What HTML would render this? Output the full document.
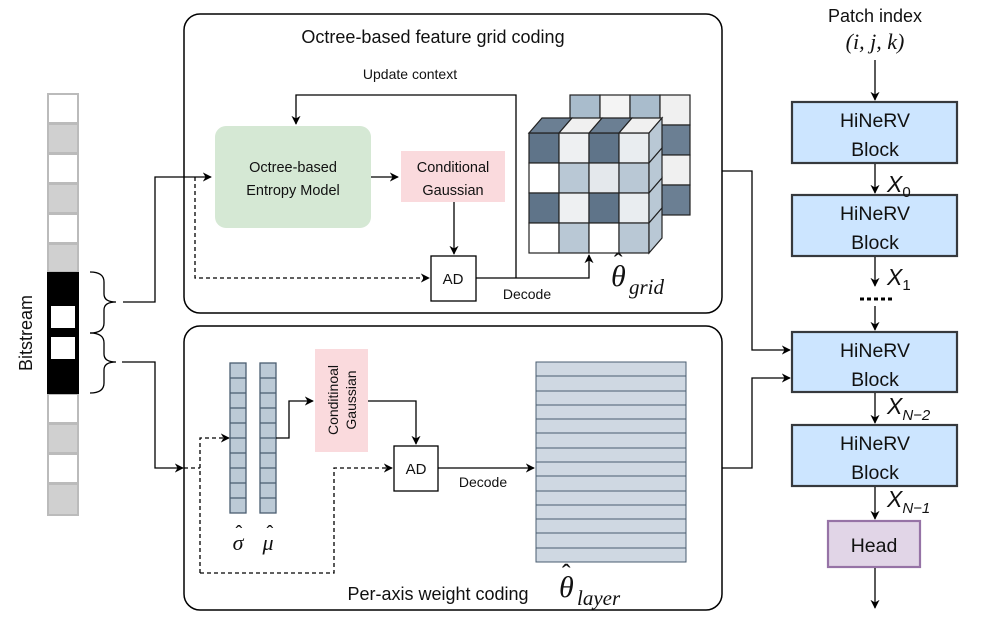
<!DOCTYPE html>
<html><head><meta charset="utf-8"><style>
html,body{margin:0;padding:0;background:#fff}
svg{display:block}
text{font-family:"Liberation Sans",sans-serif;fill:#111}
.m{font-family:"Liberation Serif",serif;font-style:italic}
</style></head><body>
<svg width="997" height="627" viewBox="0 0 997 627" xmlns="http://www.w3.org/2000/svg">
<defs>
<marker id="a" viewBox="0 0 10 10" refX="9" refY="5" markerWidth="7" markerHeight="7" orient="auto-start-reverse"><path d="M0,0 L10,5 L0,10 L3,5 z" fill="#000"/></marker>
</defs>
<rect x="184" y="14" width="538" height="299" rx="16" fill="none" stroke="#000" stroke-width="1.5"/>
<rect x="184" y="326" width="538" height="284" rx="16" fill="none" stroke="#000" stroke-width="1.5"/>
<text x="433" y="43" font-size="18" text-anchor="middle">Octree-based feature grid coding</text>
<text x="438" y="600" font-size="18" text-anchor="middle">Per-axis weight coding</text>
<text x="410" y="79" font-size="14" text-anchor="middle">Update context</text>

<rect x="215" y="126" width="156" height="102" rx="11" fill="#d5e8d4"/>
<text x="293" y="172" font-size="14.5" text-anchor="middle">Octree-based</text>
<text x="293" y="195" font-size="14.5" text-anchor="middle">Entropy Model</text>
<rect x="401" y="151" width="104" height="51" fill="#fadadd"/>
<text x="453" y="172" font-size="14.5" text-anchor="middle">Conditional</text>
<text x="453" y="195" font-size="14.5" text-anchor="middle">Gaussian</text>
<rect x="431" y="256" width="45" height="45" fill="#fff" stroke="#000" stroke-width="1.3"/>
<text x="453" y="284" font-size="15" text-anchor="middle">AD</text>
<g fill="none" stroke="#000" stroke-width="1.3">
<path d="M371,177 L398,177" marker-end="url(#a)"/>
<path d="M454,202 L454,254" marker-end="url(#a)"/>
<path d="M516,278 L516,95 L296,95 L296,124" marker-end="url(#a)"/>
<path d="M476,278 L589,278 L589,255" marker-end="url(#a)"/>
<path d="M195,177 L195,278 L429,278" stroke-dasharray="4,3" marker-end="url(#a)"/>
</g>
<text x="527" y="299" font-size="14" text-anchor="middle">Decode</text>

<!-- cube -->
<g stroke="#222" stroke-width="1.2">
<g transform="translate(41,-38)">
 <rect x="529" y="133" width="30" height="30" fill="#a9bccc"/>
 <rect x="559" y="133" width="30" height="30" fill="#f4f4f4"/>
 <rect x="589" y="133" width="30" height="30" fill="#a9bccc"/>
 <rect x="619" y="133" width="30" height="30" fill="#f0f0f0"/>
 <rect x="619" y="163" width="30" height="30" fill="#6b7f93"/>
 <rect x="619" y="193" width="30" height="30" fill="#f0f0f0"/>
 <rect x="619" y="223" width="30" height="30" fill="#6b7f93"/>
</g>
<rect x="529" y="133" width="30" height="30" fill="#5f7489"/>
<rect x="559" y="133" width="30" height="30" fill="#eef0f2"/>
<rect x="589" y="133" width="30" height="30" fill="#5f7489"/>
<rect x="619" y="133" width="30" height="30" fill="#e9edf0"/>
<rect x="529" y="163" width="30" height="30" fill="#fff"/>
<rect x="559" y="163" width="30" height="30" fill="#b9c8d5"/>
<rect x="589" y="163" width="30" height="30" fill="#e4e8ec"/>
<rect x="619" y="163" width="30" height="30" fill="#b9c8d5"/>
<rect x="529" y="193" width="30" height="30" fill="#5f7489"/>
<rect x="559" y="193" width="30" height="30" fill="#eef0f2"/>
<rect x="589" y="193" width="30" height="30" fill="#5f7489"/>
<rect x="619" y="193" width="30" height="30" fill="#e9edf0"/>
<rect x="529" y="223" width="30" height="30" fill="#fff"/>
<rect x="559" y="223" width="30" height="30" fill="#b9c8d5"/>
<rect x="589" y="223" width="30" height="30" fill="#fff"/>
<rect x="619" y="223" width="30" height="30" fill="#b9c8d5"/>
<g fill="#6b7f93">
<polygon points="529,133 542,118 572,118 559,133"/>
<polygon points="589,133 602,118 632,118 619,133"/>
</g>
<g fill="#f0f0f0">
<polygon points="559,133 572,118 602,118 589,133"/>
<polygon points="619,133 632,118 662,118 649,133"/>
</g>
<g fill="#b9c8d5">
<polygon points="649,133 662,118 662,148 649,163"/>
<polygon points="649,163 662,148 662,178 649,193"/>
<polygon points="649,193 662,178 662,208 649,223"/>
<polygon points="649,223 662,208 662,238 649,253"/>
</g>
</g>
<text x="611" y="286" font-size="30" class="m">θ</text>
<text x="614" y="272" font-size="26" font-family="Liberation Serif">ˆ</text>
<text x="629" y="294" font-size="21" class="m">grid</text>

<!-- bitstream -->
<g stroke="#bbb" stroke-width="2">
<rect x="48" y="94" width="30" height="29" fill="#fff"/>
<rect x="48" y="124" width="30" height="29" fill="#d0d0d0"/>
<rect x="48" y="154" width="30" height="29" fill="#fff"/>
<rect x="48" y="184" width="30" height="29" fill="#d0d0d0"/>
<rect x="48" y="214" width="30" height="29" fill="#fff"/>
<rect x="48" y="244" width="30" height="28" fill="#d0d0d0"/>
<rect x="48" y="394" width="30" height="29" fill="#fff"/>
<rect x="48" y="424" width="30" height="29" fill="#d0d0d0"/>
<rect x="48" y="454" width="30" height="29" fill="#fff"/>
<rect x="48" y="484" width="30" height="31" fill="#d0d0d0"/>
</g>
<rect x="47" y="272" width="32" height="122" fill="#000"/>
<rect x="51" y="306" width="24" height="22" fill="#fff"/>
<rect x="51" y="337" width="24" height="22" fill="#fff"/>
<text transform="translate(32,333) rotate(-90)" font-size="18" text-anchor="middle">Bitstream</text>
<g fill="none" stroke="#000" stroke-width="1.3">
<path d="M90,272 Q104,272 104,282 L104,294 Q104,302 116,302 Q104,302 104,310 L104,323 Q104,333 90,333"/>
<path d="M90,333 Q104,333 104,343 L104,354 Q104,362 116,362 Q104,362 104,370 L104,383 Q104,393 90,393"/>
<path d="M123,302 L155,302 L155,177 L211,177" marker-end="url(#a)"/>
<path d="M122,362 L155,362 L155,468 L183,468" marker-end="url(#a)"/>
<path d="M184,468 L200,468" stroke-dasharray="4,3"/>
</g>

<!-- bottom internals -->
<g stroke="#4a5d70" stroke-width="1.3" fill="#bccad6">
<rect x="230" y="363" width="16" height="150"/>
<rect x="260" y="363" width="16" height="150"/>
<path d="M230,378H246M230,393H246M230,408H246M230,423H246M230,438H246M230,453H246M230,468H246M230,483H246M230,498H246M260,378H276M260,393H276M260,408H276M260,423H276M260,438H276M260,453H276M260,468H276M260,483H276M260,498H276" fill="none"/>
</g>
<text x="238" y="550" font-size="22" class="m" text-anchor="middle">σ</text>
<text x="239" y="540" font-size="20" font-family="Liberation Serif" text-anchor="middle">ˆ</text>
<text x="268" y="550" font-size="22" class="m" text-anchor="middle">μ</text>
<text x="270" y="540" font-size="20" font-family="Liberation Serif" text-anchor="middle">ˆ</text>
<rect x="315" y="349" width="53" height="103" fill="#fadadd"/>
<text transform="translate(338,400) rotate(-90)" font-size="14" text-anchor="middle">Conditinoal</text>
<text transform="translate(356,400) rotate(-90)" font-size="14" text-anchor="middle">Gaussian</text>
<rect x="394" y="446" width="44" height="45" fill="#fff" stroke="#000" stroke-width="1.3"/>
<text x="416" y="474" font-size="15" text-anchor="middle">AD</text>
<text x="483" y="487" font-size="14" text-anchor="middle">Decode</text>
<g fill="none" stroke="#000" stroke-width="1.3">
<path d="M276,438 L289,438 L289,401 L313,401" marker-end="url(#a)"/>
<path d="M368,401 L416,401 L416,444" marker-end="url(#a)"/>
<path d="M438,468 L534,468" marker-end="url(#a)"/>
<path d="M200,573 L200,438 L229,438" stroke-dasharray="4,3" marker-end="url(#a)"/>
<path d="M200,573 L334,573 L334,468 L392,468" stroke-dasharray="4,3" marker-end="url(#a)"/>
</g>
<rect x="536" y="362" width="150" height="200" fill="#cfd8e2" stroke="#4a5d70" stroke-width="1"/>
<path d="M536,376H686M536,391H686M536,405H686M536,419H686M536,433H686M536,448H686M536,462H686M536,476H686M536,491H686M536,505H686M536,519H686M536,533H686M536,548H686" stroke="#4a5d70" stroke-width="1" fill="none"/>
<text x="559" y="597" font-size="30" class="m">θ</text>
<text x="562" y="583" font-size="26" font-family="Liberation Serif">ˆ</text>
<text x="577" y="605" font-size="21" class="m">layer</text>

<g fill="none" stroke="#000" stroke-width="1.3">
<path d="M722,171 L752,171 L752,350 L790,350" marker-end="url(#a)"/>
<path d="M722,468 L752,468 L752,378 L790,378" marker-end="url(#a)"/>
</g>

<text x="875" y="22" font-size="18" text-anchor="middle">Patch index</text>
<text x="875" y="49" font-size="22" class="m" text-anchor="middle">(i, j, k)</text>
<g fill="#cce5ff" stroke="#36393d" stroke-width="2.2">
<rect x="792" y="102" width="165" height="61"/>
<rect x="792" y="195" width="165" height="61"/>
<rect x="792" y="332" width="165" height="60"/>
<rect x="792" y="425" width="165" height="61"/>
</g>
<rect x="828" y="521" width="92" height="46" fill="#e1d5e7" stroke="#9673a6" stroke-width="2.2"/>
<g font-size="19.5" text-anchor="middle">
<text x="875" y="127">HiNeRV</text><text x="875" y="156">Block</text>
<text x="875" y="220">HiNeRV</text><text x="875" y="249">Block</text>
<text x="875" y="357">HiNeRV</text><text x="875" y="386">Block</text>
<text x="875" y="450">HiNeRV</text><text x="875" y="479">Block</text>
<text x="874" y="552">Head</text>
</g>
<g fill="none" stroke="#000" stroke-width="1.3">
<path d="M875,60 L875,100" marker-end="url(#a)"/>
<path d="M875,164 L875,193" marker-end="url(#a)"/>
<path d="M875,257 L875,286" marker-end="url(#a)"/>
<path d="M875,306 L875,330" marker-end="url(#a)"/>
<path d="M875,393 L875,423" marker-end="url(#a)"/>
<path d="M875,487 L875,519" marker-end="url(#a)"/>
<path d="M875,568 L875,608" marker-end="url(#a)"/>
<path d="M860,299 L894,299" stroke-width="3" stroke-dasharray="4,3"/>
</g>
<g class="m" font-size="23">
<text x="887" y="192">X<tspan font-size="15" font-style="normal" dy="5">0</tspan></text>
<text x="887" y="285">X<tspan font-size="15" font-style="normal" dy="5">1</tspan></text>
<text x="887" y="414">X<tspan font-size="15" dy="6">N−2</tspan></text>
<text x="887" y="507">X<tspan font-size="15" dy="6">N−1</tspan></text>
</g>
</svg>
</body></html>
